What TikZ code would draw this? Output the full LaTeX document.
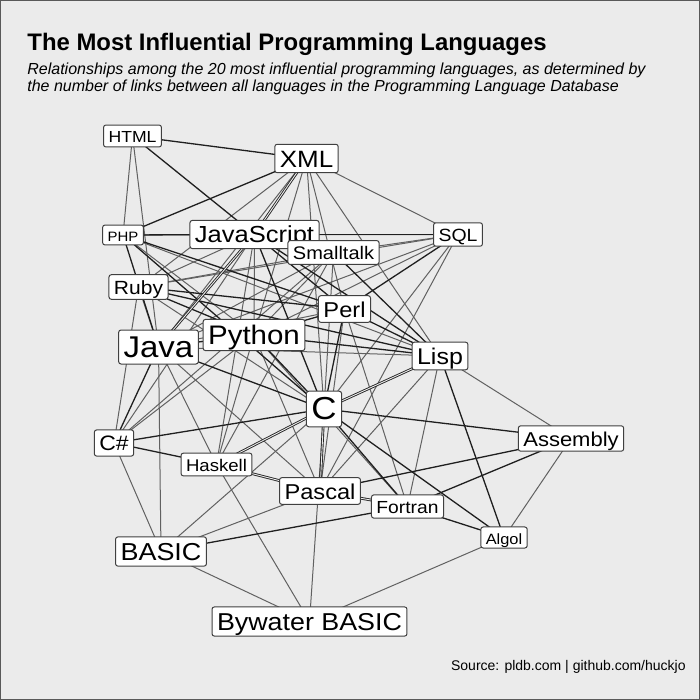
\documentclass[tikz,border=0pt]{standalone}
\usepackage{fontspec}
\usepackage{graphicx}
\setmainfont{Liberation Sans}
\definecolor{panel}{HTML}{EBEBEB}
\pgfdeclarelayer{bg}
\pgfdeclarelayer{edges}
\pgfsetlayers{bg,edges,main}
\newcommand{\langlbl}[2]{\fontsize{#1pt}{#1pt}\selectfont\rule[\dimexpr-0.2em-0.5pt\relax]{0pt}{\dimexpr0.86em+4.1pt\relax}\scalebox{1.1}[1]{#2}}
\begin{document}
\begin{tikzpicture}[x=0.5pt,y=-0.5pt,
  lang/.style={draw=black!75, fill=white, rounded corners=1.2pt, line width=0.5pt, inner xsep=2.5pt, inner ysep=0pt},
  dk/.style={draw=black!88, line width=0.65pt},
  gy/.style={draw=black!62, line width=0.5pt},
  dbl/.style={draw=black!85, line width=0.45pt, double=panel, double distance=0.45pt},
  ttl/.style={anchor=base west, inner sep=0pt}]
\useasboundingbox (0,0) rectangle (700,700);
\begin{pgfonlayer}{bg}
\fill[panel] (0,0) rectangle (700,700);
\draw[black!65, line width=0.5pt] (0.5,0.5) rectangle (699.5,699.5);
\end{pgfonlayer}

\node[ttl, font=\fontsize{11.95pt}{14pt}\selectfont\bfseries] (title) at (27,51) {The Most Influential Programming Languages};
\node[ttl, font=\fontsize{8pt}{9pt}\selectfont\itshape] (sub1) at (27,75) {Relationships among the 20 most influential programming languages, as determined by};
\node[ttl, font=\fontsize{8pt}{9pt}\selectfont\itshape] (sub2) at (27,92) {the number of links between all languages in the Programming Language Database};
\node[anchor=base east, inner sep=0pt, font=\fontsize{7pt}{8pt}\selectfont] (src) at (686,670) {Source: pldb.com | github.com/huckjo};

\node[lang] (html) at (132.5,136) {\langlbl{8.0}{HTML}};
\node[lang] (xml) at (306.5,158.5) {\langlbl{11.8}{XML}};
\node[lang] (php) at (123,235) {\langlbl{6.8}{PHP}};
\node[lang] (js) at (254.5,234.5) {\langlbl{11.6}{JavaScript}};
\node[lang] (sql) at (458,234.5) {\langlbl{8.85}{SQL}};
\node[lang] (st) at (333.5,252.5) {\langlbl{9.1}{Smalltalk}};
\node[lang] (ruby) at (138.5,287) {\langlbl{9.55}{Ruby}};
\node[lang] (perl) at (344.5,309) {\langlbl{10.75}{Perl}};
\node[lang] (py) at (254,335) {\langlbl{13.4}{Python}};
\node[lang] (java) at (158.5,347) {\langlbl{15}{Java}};
\node[lang] (lisp) at (440,356) {\langlbl{11.35}{Lisp}};
\node[lang] (c) at (324,409) {\langlbl{15.9}{C}};
\node[lang] (cs) at (114,443) {\langlbl{10.45}{C\#}};
\node[lang] (asm) at (571,438.5) {\langlbl{10}{Assembly}};
\node[lang] (hs) at (216.5,464.5) {\langlbl{8.45}{Haskell}};
\node[lang] (pas) at (320,491) {\langlbl{10.75}{Pascal}};
\node[lang] (fort) at (407.5,506.5) {\langlbl{8.75}{Fortran}};
\node[lang] (algol) at (504,537.5) {\langlbl{7.45}{Algol}};
\node[lang] (basic) at (161,551.5) {\langlbl{12.25}{BASIC}};
\node[lang] (bw) at (309.5,621.5) {\langlbl{12.2}{Bywater BASIC}};

\begin{pgfonlayer}{edges}
\foreach \a/\b in {html/php, html/java, xml/sql, xml/ruby, xml/java, xml/py, xml/c, xml/perl, xml/lisp,
  php/py, php/sql, php/lisp, js/cs, js/py, js/ruby, js/hs, sql/st, sql/ruby, sql/py, sql/java, sql/c, sql/pas,
  st/ruby, st/java, st/py, st/c, st/cs, st/hs, ruby/java, ruby/c, ruby/cs, java/hs, java/basic, java/pas,
  java/perl, java/lisp, py/hs, py/pas, py/fort, py/cs, perl/fort, perl/pas, lisp/asm, lisp/fort, lisp/pas,
  c/basic, c/bw, cs/basic, pas/basic, algol/asm, algol/bw, basic/bw, hs/bw}
  \draw[gy] (\a.center) -- (\b.center);
\foreach \a/\b in {html/xml, html/js, xml/php, php/js, php/java, php/perl, php/c, js/sql, js/perl, js/lisp, js/c,
  sql/perl, st/lisp, ruby/perl, ruby/py, ruby/lisp, java/py, java/c, java/cs, py/perl, py/lisp, py/c,
  perl/lisp, perl/c, lisp/algol, c/cs, c/fort, c/algol, c/asm, cs/hs, pas/asm, fort/algol, fort/asm, fort/basic}
  \draw[dk] (\a.center) -- (\b.center);
\foreach \a/\b in {xml/js, js/java, c/pas, c/hs, hs/pas, pas/fort, lisp/c}
  \draw[dbl] (\a.center) -- (\b.center);
\end{pgfonlayer}
\end{tikzpicture}
\end{document}
